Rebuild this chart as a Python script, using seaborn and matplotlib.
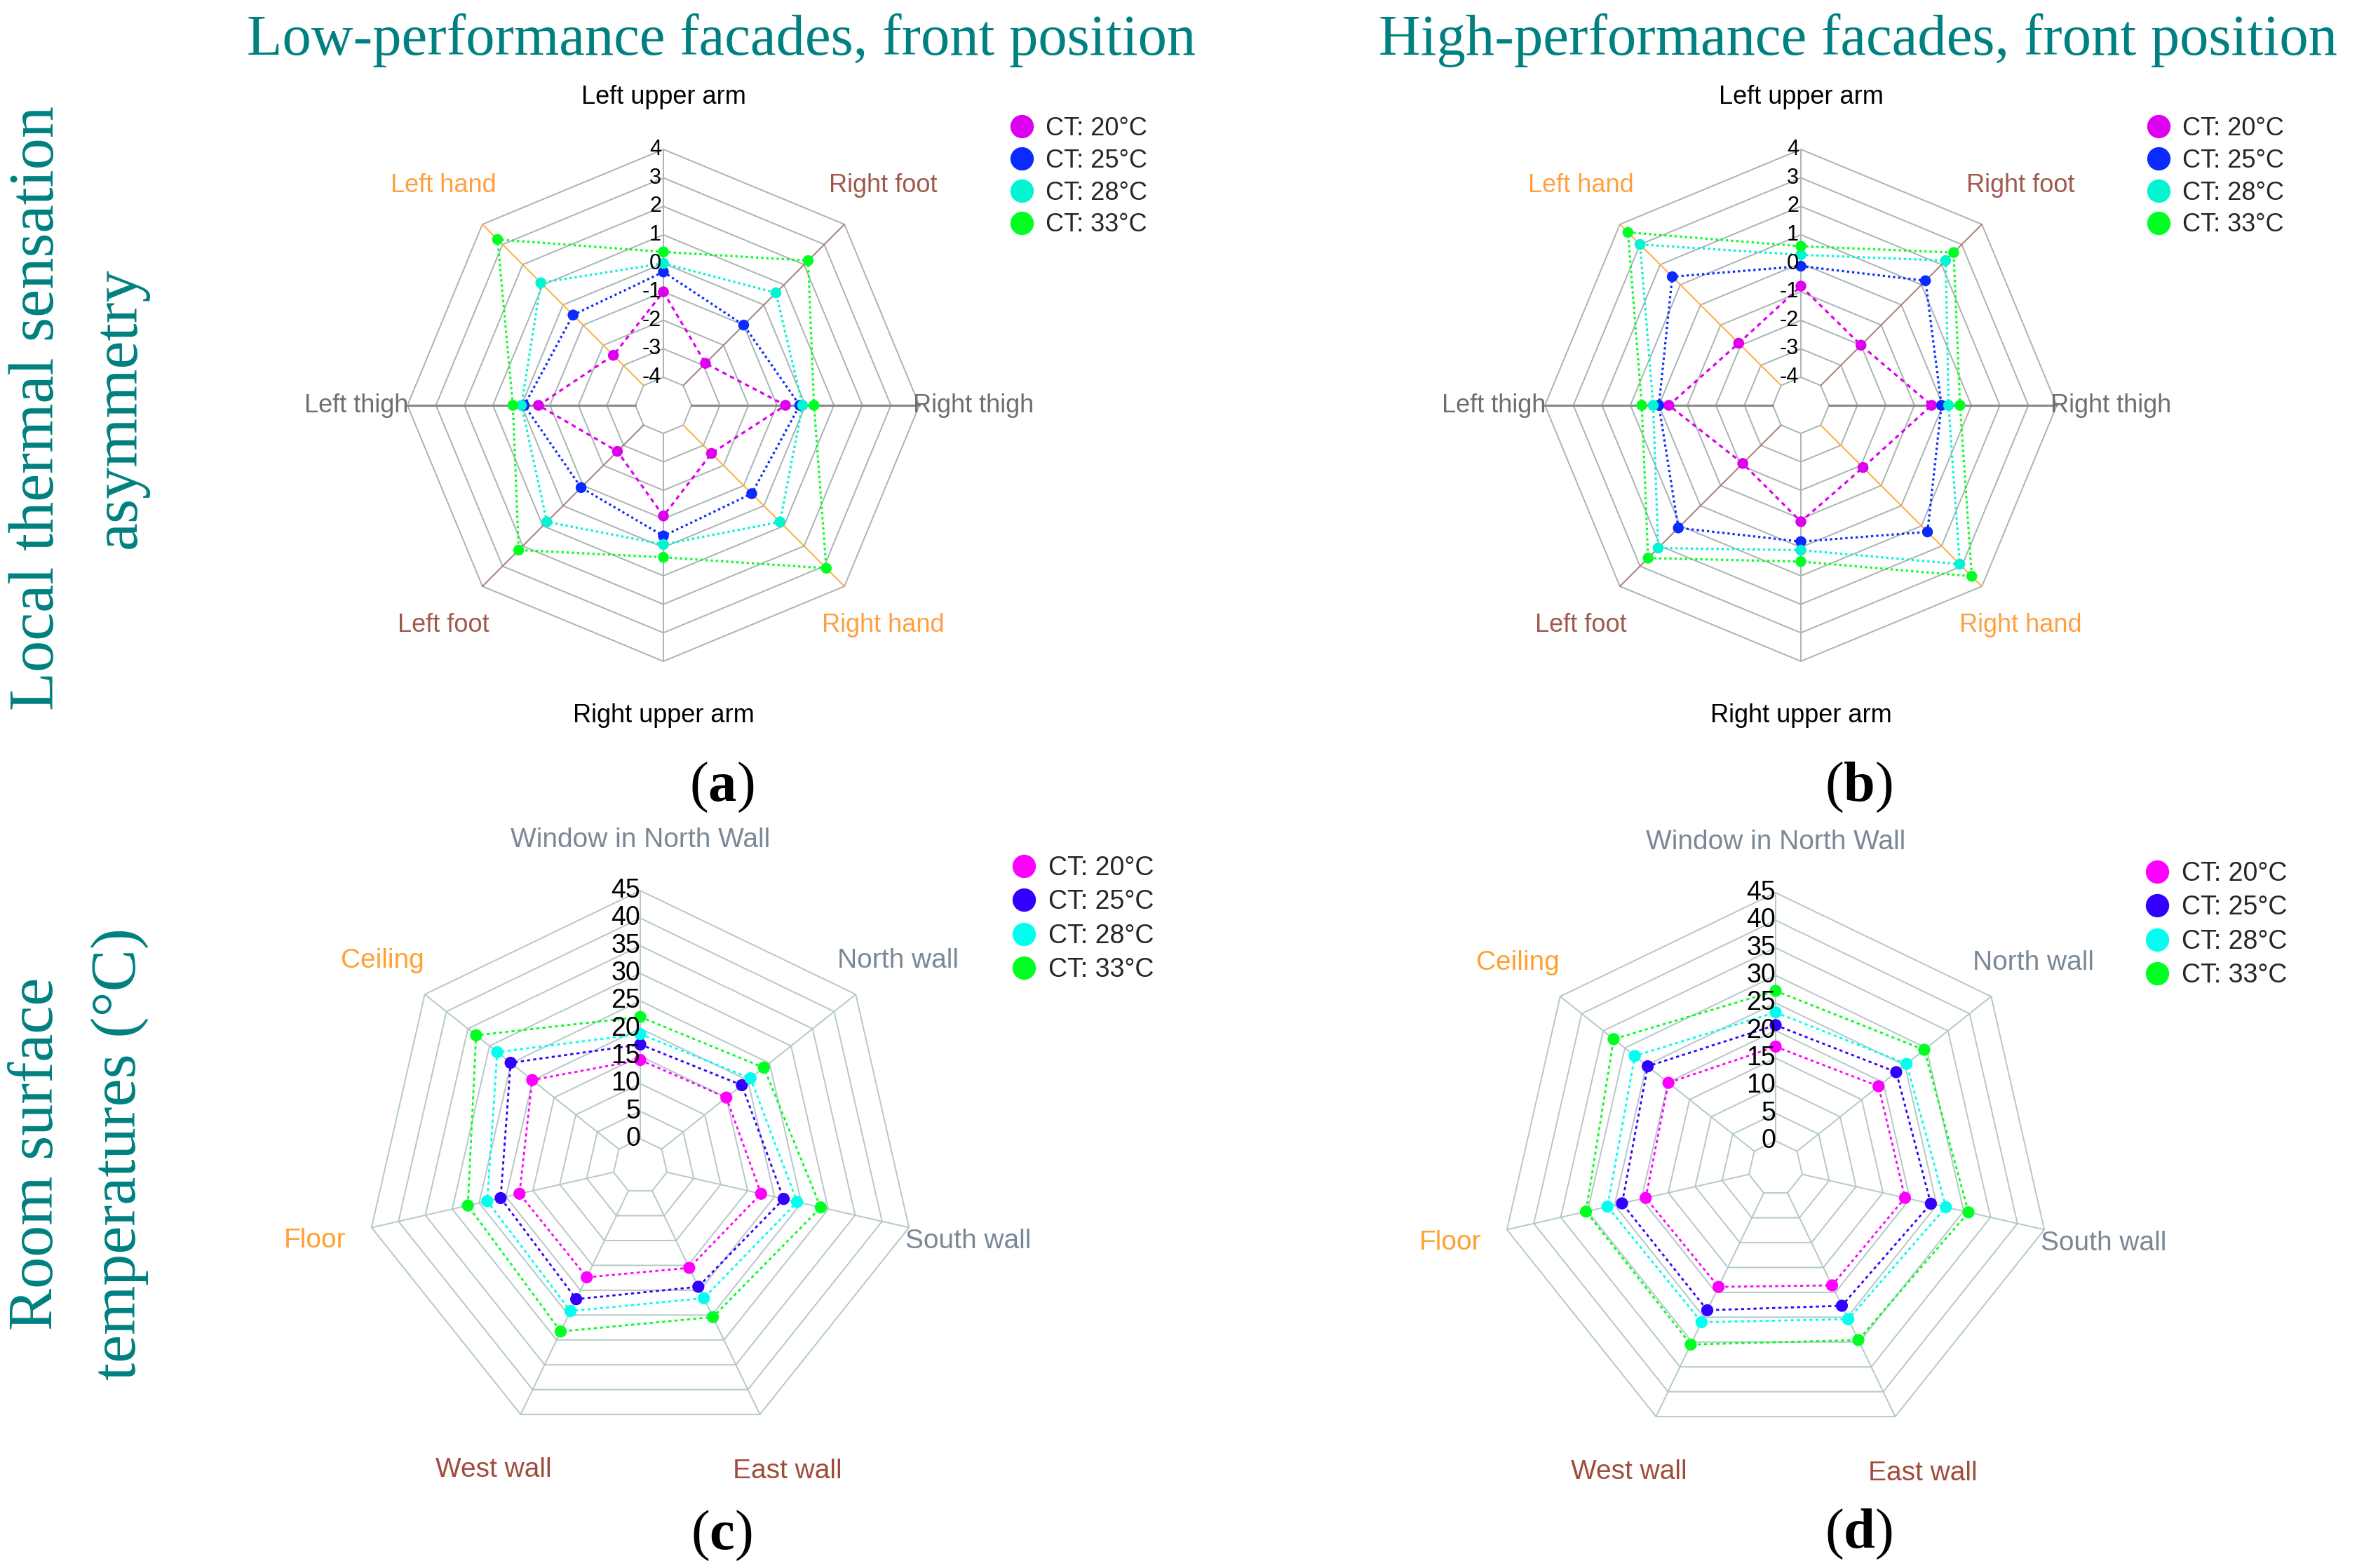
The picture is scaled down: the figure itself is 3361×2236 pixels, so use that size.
import numpy as np
import matplotlib.pyplot as plt
from matplotlib.lines import Line2D
import seaborn as sns

sns.set_style("white")
plt.rcParams['font.family'] = ['Liberation Sans', 'DejaVu Sans']
plt.rcParams['mathtext.fontset'] = 'custom'
plt.rcParams['mathtext.rm'] = 'Liberation Serif'
plt.rcParams['mathtext.bf'] = 'Liberation Serif:bold'

W, H = 3361, 2236

# ---- data ----
body_parts = ['Left upper arm', 'Right foot', 'Right thigh', 'Right hand',
              'Right upper arm', 'Left foot', 'Left thigh', 'Left hand']
surfaces = ['Window in North Wall', 'North wall', 'South wall', 'East wall',
            'West wall', 'Floor', 'Ceiling']
ct_labels = ['CT: 20°C', 'CT: 25°C', 'CT: 28°C', 'CT: 33°C']
asym_ticks = [-4, -3, -2, -1, 0, 1, 2, 3, 4]
temp_ticks = [0, 5, 10, 15, 20, 25, 30, 35, 40, 45]

# (a) low-performance facades, thermal sensation asymmetry
asym_low_20 = [-1.0, -2.9, -0.7, -2.6, -1.1, -2.7, -0.6, -2.5]
asym_low_25 = [-0.3, -1.0, -0.2, -0.6, -0.4, -0.9, -0.1, -0.5]
asym_low_28 = [0.0, 0.6, -0.1, 0.8, -0.1, 0.8, 0.0, 1.1]
asym_low_33 = [0.4, 2.2, 0.3, 3.1, 0.35, 2.2, 0.3, 3.25]

# (b) high-performance facades, thermal sensation asymmetry
asym_high_20 = [-0.8, -2.0, -0.4, -1.9, -0.9, -2.1, -0.35, -1.9]
asym_high_25 = [-0.1, 1.2, -0.05, 1.3, -0.2, 1.1, 0.0, 1.4]
asym_high_28 = [0.3, 2.2, 0.2, 2.9, 0.1, 2.1, 0.2, 3.0]
asym_high_33 = [0.6, 2.6, 0.6, 3.5, 0.5, 2.6, 0.6, 3.6]

# (c) low-performance facades, surface temperatures
temp_low_20 = [14.3, 15.0, 17.5, 15.5, 17.4, 17.5, 20.1]
temp_low_25 = [17.1, 18.6, 21.7, 19.3, 21.8, 21.0, 25.1]
temp_low_28 = [19.0, 20.6, 24.2, 21.6, 24.2, 23.5, 28.2]
temp_low_33 = [22.1, 23.7, 28.6, 25.4, 28.3, 27.1, 33.1]

# (d) high-performance facades, surface temperatures
temp_high_20 = [17.1, 18.9, 19.1, 18.6, 18.9, 19.2, 19.9]
temp_high_25 = [21.0, 23.0, 23.9, 22.7, 23.6, 23.6, 24.7]
temp_high_28 = [23.3, 25.4, 26.7, 25.4, 26.0, 26.3, 27.7]
temp_high_33 = [27.2, 29.5, 30.9, 29.6, 30.5, 30.3, 32.6]

# ---- styles ----
TEAL = '#008080'
body_colors = ['#dd00ee', '#0a2aff', '#00f5d0', '#00ff22']
surf_colors = ['#ff00ff', '#3300ff', '#00ffee', '#00ff22']
body_spoke_colors = ['#a9b3b3', '#a87c74', '#888888', '#ffac40',
                     '#a9b3b3', '#a87c74', '#888888', '#ffac40']
body_spoke_widths = [1.4, 1.4, 2.2, 1.4, 1.4, 1.4, 2.2, 1.4]
body_label_colors = ['#000000', '#a0584c', '#6e6e6e', '#ffa040',
                     '#000000', '#a0584c', '#6e6e6e', '#ffa040']
body_label_rad = [440, 443, 356, 443, 443, 443, 364, 443]
body_label_ha = ['center', 'center', 'left', 'center',
                 'center', 'center', 'right', 'center']
surf_label_colors = ['#7a8896', '#7a8896', '#7a8896', '#a04c3c',
                     '#a04c3c', '#ffa030', '#ffa030']
surf_label_rad = [465, 470, 480, 483, 481, 476, 470]


def radar_xy(values, r0, step, vmin, tstep):
    n = len(values)
    ang = np.pi / 2 - 2 * np.pi * np.arange(n) / n
    r = r0 + (np.asarray(values, float) - vmin) / tstep * step
    return r * np.cos(ang), r * np.sin(ang)


def make_axes(fig, x0, y0, w, h, cx, cy):
    ax = fig.add_axes([x0 / W, 1 - (y0 + h) / H, w / W, h / H])
    ax.set_xlim(x0 - cx, x0 + w - cx)
    ax.set_ylim(cy - (y0 + h), cy - y0)
    ax.set_axis_off()
    return ax


def draw_radar(ax, cats, series, ticks, r0, rmax, grid_color, spoke_colors,
               spoke_widths, label_colors, label_rad, label_ha, label_fs,
               tick_fs, tick_dx, colors, styles, lw, msize, legend_xy, leg_fs,
               leg_space):
    n = len(cats)
    vmin, tstep = ticks[0], ticks[1] - ticks[0]
    step = (rmax - r0) / (len(ticks) - 1)

    # polygon rings
    for t in ticks:
        gx, gy = radar_xy([t] * n, r0, step, vmin, tstep)
        ax.plot(np.append(gx, gx[0]), np.append(gy, gy[0]),
                color=grid_color, lw=1.4, zorder=1)
    # spokes
    ix, iy = radar_xy([ticks[0]] * n, r0, step, vmin, tstep)
    ox, oy = radar_xy([ticks[-1]] * n, r0, step, vmin, tstep)
    for i in range(n):
        ax.plot([ix[i], ox[i]], [iy[i], oy[i]], color=spoke_colors[i],
                lw=spoke_widths[i], zorder=2)
    # tick labels on the top spoke
    for t in ticks:
        _, ty = radar_xy([t], r0, step, vmin, tstep)
        ax.text(tick_dx, ty[0], f'{t}', ha='right', va='center',
                fontsize=tick_fs, color='black', zorder=5)
    # category labels
    ang = np.pi / 2 - 2 * np.pi * np.arange(n) / n
    for i, c in enumerate(cats):
        ax.text(label_rad[i] * np.cos(ang[i]), label_rad[i] * np.sin(ang[i]), c,
                ha=label_ha[i], va='center', fontsize=label_fs,
                color=label_colors[i], zorder=5)
    # data series
    for vals, col, ls in zip(series, colors, styles):
        x, y = radar_xy(vals, r0, step, vmin, tstep)
        sns.lineplot(x=np.append(x, x[0]), y=np.append(y, y[0]), sort=False,
                     estimator=None, color=col, lw=lw, dashes=False, ax=ax,
                     zorder=3).lines[-1].set_dashes(ls)
        sns.scatterplot(x=x, y=y, color=col, s=msize, edgecolor='none',
                        ax=ax, zorder=4, legend=False)
    handles = [Line2D([], [], marker='o', ls='none', color=c, markersize=24,
                      markeredgewidth=0) for c in colors]
    ax.legend(handles, ct_labels, loc='upper left', bbox_to_anchor=legend_xy,
              bbox_transform=ax.transData, frameon=False, fontsize=leg_fs,
              borderpad=0, handlelength=1.0, handletextpad=0.45,
              labelspacing=leg_space, borderaxespad=0)


fig = plt.figure(figsize=(W / 100, H / 100), dpi=100)

body_styles = [(2.0, 1.8), (1, 1.3), (1, 1.3), (1, 1.3)]
surf_styles = [(1.6, 1.6), (1.6, 1.6), (1.6, 1.6), (1.6, 1.6)]

panels = [
    (0, 0, 946, 578, [asym_low_20, asym_low_25, asym_low_28, asym_low_33]),
    (1680, 0, 2568, 578, [asym_high_20, asym_high_25, asym_high_28, asym_high_33]),
]
for x0, y0, cx, cy, series in panels:
    ax = make_axes(fig, x0, y0, 1681, 1118, cx, cy)
    leg_x = (1439 if x0 == 0 else 3060) - cx
    draw_radar(ax, body_parts, series, asym_ticks, 40, 365, '#a9b3b3',
               body_spoke_colors, body_spoke_widths, body_label_colors,
               body_label_rad, body_label_ha, 26, 22, -3, body_colors,
               body_styles, 2.3, 125, (leg_x, cy - 166), 26, 0.3)

panels = [
    (0, 1118, 913, 1663, [temp_low_20, temp_low_25, temp_low_28, temp_low_33]),
    (1680, 1118, 2532, 1666, [temp_high_20, temp_high_25, temp_high_28, temp_high_33]),
]
for x0, y0, cx, cy, series in panels:
    ax = make_axes(fig, x0, y0, 1681, 1118, cx, cy)
    leg_x = (1441 if x0 == 0 else 3057) - cx
    leg_y = cy - (1220 if x0 == 0 else 1228)
    draw_radar(ax, surfaces, series, temp_ticks, 39, 393, '#b4c8c8',
               ['#b4c8c8'] * 7, [1.4] * 7, surf_label_colors, surf_label_rad,
               ['center'] * 7, 28, 27, 0, surf_colors, surf_styles, 2.0, 155,
               (leg_x, leg_y), 27, 0.33)

# column titles, row titles and panel letters
fig.text(1029 / W, 1 - 78 / H, 'Low-performance facades, front position',
         family='Liberation Serif', fontsize=59.5, color=TEAL, ha='center',
         va='baseline')
fig.text(2649 / W, 1 - 78 / H, 'High-performance facades, front position',
         family='Liberation Serif', fontsize=59.5, color=TEAL, ha='center',
         va='baseline')
fig.text(112 / W, 1 - 582 / H, 'Local thermal sensation\nasymmetry',
         family='Liberation Serif', fontsize=65, color=TEAL, ha='center',
         va='center', rotation=90, multialignment='center', linespacing=1.55)
fig.text(112 / W, 1 - 1645 / H, 'Room surface\ntemperatures (°C)',
         family='Liberation Serif', fontsize=65, color=TEAL, ha='center',
         va='center', rotation=90, multialignment='center', linespacing=1.55)
for letter, (lx, ly) in zip('abcd', [(1029, 1123), (2650, 1123),
                                     (1029, 2190), (2650, 2188)]):
    fig.text(lx / W, 1 - ly / H, '(' + r'$\mathbf{' + letter + '}$' + ')',
             family='Liberation Serif', fontsize=58, color='black',
             ha='center', va='center')

fig.savefig('out.png', dpi=100, facecolor='white')
